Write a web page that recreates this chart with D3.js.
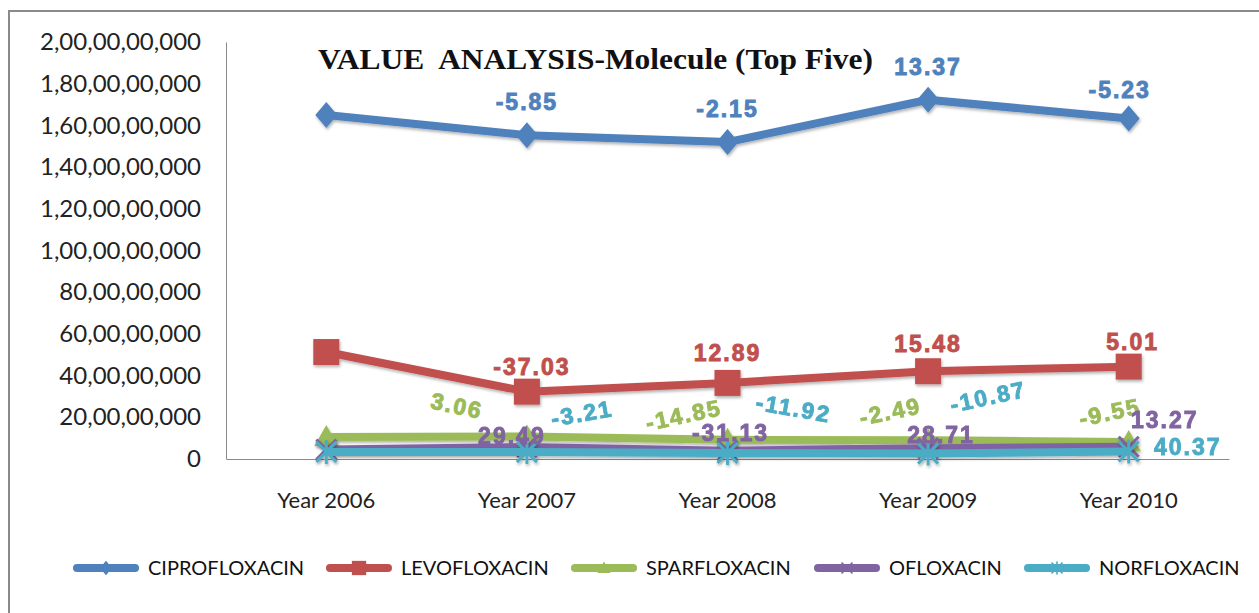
<!DOCTYPE html>
<html>
<head>
<meta charset="utf-8">
<script src="https://cdn.jsdelivr.net/npm/d3@7"></script>
<style>
  body { margin: 0; background: #fff; }
  .axis text { font-family: Lato, "Open Sans", sans-serif; fill: #222; }
  .lbl { font-family: "Liberation Sans", Arial, sans-serif; font-weight: bold; font-size: 23px; letter-spacing: 2px; stroke-width: 0.9px; }
  .legend text { font-family: Lato, sans-serif; font-size: 20px; fill: #111; }
</style>
</head>
<body>
<svg id="chart" width="1259" height="613"></svg>
<script>
// categories and series (values in rupees)
const years = ['Year 2006', 'Year 2007', 'Year 2008', 'Year 2009', 'Year 2010']
const cipro = [1650000000, 1553000000, 1520000000, 1723000000, 1633000000]
const levo  = [513000000, 323000000, 365000000, 421000000, 443000000]
const sparf = [105000000, 108000000, 92000000, 90000000, 81000000]
const oflox = [45000000, 58000000, 40000000, 52000000, 59000000]
const norf  = [34000000, 33000000, 29000000, 26000000, 36000000]

// growth % labels shown on the points (none for the first year)
const ciproGrowth = [null, '-5.85', '-2.15', '13.37', '-5.23']
const levoGrowth  = [null, '-37.03', '12.89', '15.48', '5.01']
const sparfGrowth = [null, '3.06', '-14.85', '-2.49', '-9.55']
const ofloxGrowth = [null, '29.49', '-31.13', '28.71', '13.27']
const norfGrowth  = [null, '-3.21', '-11.92', '-10.87', '40.37']

const yTicks = [0, 200000000, 400000000, 600000000, 800000000, 1000000000,
  1200000000, 1400000000, 1600000000, 1800000000, 2000000000]

const names = ['CIPROFLOXACIN', 'LEVOFLOXACIN', 'SPARFLOXACIN', 'OFLOXACIN', 'NORFLOXACIN']
const colors = ['#4F81BD', '#C0504D', '#9BBB59', '#8064A2', '#4BACC6']

// label placement relative to point: [dx, dy, rotate]
const labelPos = [
  [null, [0, -33, 0], [0, -33, 0], [0, -33, 0], [-9, -29, 0]],
  [null, [5, -25, 0], [0, -30, 0], [0, -28, 0], [4, -25, 0]],
  [null, [-70, -31, 12], [-44, -25, -12], [-38, -29, -12], [-19, -30, -12]],
  [null, [-15, -11, 0], [3, -18, 0], [13, -13, 0], [36, -27, 0]],
  [null, [55, -39, -10], [66, -45, 10], [60, -57, -12], [59, -5, 0]]
]

// Indian digit grouping: 2,00,00,00,000
function inr(n) {
  var s = String(Math.round(n))
  if (s.length <= 3) return s
  var last = s.slice(-3), rest = s.slice(0, -3)
  return rest.replace(/\B(?=(\d{2})+(?!\d))/g, ',') + ',' + last
}

var svg = d3.select('#chart')
var defs = svg.append('defs')
defs.append('filter').attr('id', 'shadow').attr('x', '-20%').attr('y', '-20%')
    .attr('width', '140%').attr('height', '160%')
  .append('feDropShadow').attr('dx', 1).attr('dy', 2).attr('stdDeviation', 1.5)
    .attr('flood-color', '#000').attr('flood-opacity', 0.3)

// outer frame (right/bottom edges run off the page)
svg.append('rect').attr('x', 9).attr('y', 11).attr('width', 1270).attr('height', 640)
    .attr('fill', 'none').attr('stroke', '#8a8a8a').attr('stroke-width', 2)

var x = d3.scaleBand().domain(years).range([226, 1229]).paddingInner(0).paddingOuter(0)
var cx = d => x(d) + x.bandwidth() / 2
var y = d3.scaleLinear().domain([0, 2000000000]).range([459, 42])

var yAxis = svg.append('g').attr('class', 'axis')
    .attr('transform', 'translate(226,0)')
    .call(d3.axisLeft(y).tickValues(yTicks).tickFormat(inr).tickSize(0).tickPadding(25))
yAxis.selectAll('text').style('font-size', '24px')
yAxis.select('.domain').attr('stroke', '#8a8a8a')

var xAxis = svg.append('g').attr('class', 'axis')
    .attr('transform', 'translate(0,459)')
    .call(d3.axisBottom(x).tickSize(0).tickPadding(33))
xAxis.selectAll('text').style('font-size', '22px')
xAxis.select('.domain').attr('stroke', '#8a8a8a')

// title
svg.append('text').attr('x', 318).attr('y', 69)
    .attr('textLength', 555).attr('lengthAdjust', 'spacingAndGlyphs')
    .style('white-space', 'pre')
    .style('font-family', '"Liberation Serif", serif').style('font-weight', 'bold')
    .style('font-size', '30px').style('fill', '#111')
    .text('VALUE  ANALYSIS-Molecule (Top Five)')

// marker shapes
function marker(g, kind, color, s) {
  if (kind == 0) {
    g.append('path').attr('d', 'M0,' + (-13 * s) + 'L' + (11 * s) + ',0L0,' + (13 * s) + 'L' + (-11 * s) + ',0Z').attr('fill', color)
  } else if (kind == 1) {
    g.append('rect').attr('x', -13 * s).attr('y', -13 * s).attr('width', 26 * s).attr('height', 26 * s).attr('fill', color)
  } else if (kind == 2) {
    g.append('path').attr('d', 'M0,' + (-12 * s) + 'L' + (12 * s) + ',' + (9 * s) + 'L' + (-12 * s) + ',' + (9 * s) + 'Z').attr('fill', color)
  } else {
    var r = 10 * s
    var d = 'M' + -r + ',' + -r + 'L' + r + ',' + r + 'M' + -r + ',' + r + 'L' + r + ',' + -r
    if (kind == 4) d += 'M0,' + (-r * 1.2) + 'L0,' + (r * 1.2)
    g.append('path').attr('d', d).attr('stroke', color).attr('stroke-width', 3 * s).attr('fill', 'none')
  }
}

var series = [cipro, levo, sparf, oflox, norf]
var growth = [ciproGrowth, levoGrowth, sparfGrowth, ofloxGrowth, norfGrowth]
var line = d3.line().x((d, i) => cx(years[i])).y(d => y(d))

series.forEach((vals, k) => {
  var g = svg.append('g').attr('filter', 'url(#shadow)')
  g.append('path').datum(vals).attr('d', line)
      .attr('fill', 'none').attr('stroke', colors[k]).attr('stroke-width', 8)
      .attr('stroke-linejoin', 'round')
  vals.forEach((v, i) => {
    var m = g.append('g').attr('transform', 'translate(' + cx(years[i]) + ',' + y(v) + ')')
    marker(m, k, colors[k], 1)
  })
})

// data labels on top
series.forEach((vals, k) => {
  vals.forEach((v, i) => {
    var t = growth[k][i]
    if (t == null) return
    var p = labelPos[k][i]
    svg.append('text').attr('class', 'lbl')
        .attr('transform', 'translate(' + (cx(years[i]) + p[0]) + ',' + (y(v) + p[1]) + ') rotate(' + p[2] + ')')
        .attr('text-anchor', 'middle').attr('dy', '0.36em')
        .style('fill', colors[k]).style('stroke', colors[k]).text(t)
  })
})

// legend
var legX = [77, 330, 575, 818, 1028]
var legend = svg.append('g').attr('class', 'legend')
names.forEach((n, k) => {
  var g = legend.append('g').attr('transform', 'translate(' + legX[k] + ',568)')
  g.append('line').attr('x1', 0).attr('x2', 58).attr('stroke', colors[k])
      .attr('stroke-width', 8).attr('stroke-linecap', 'round')
  marker(g.append('g').attr('transform', 'translate(29,0)'), k, colors[k], 0.55)
  g.append('text').attr('x', 71).attr('dy', '0.36em').text(n)
})
</script>
</body>
</html>
